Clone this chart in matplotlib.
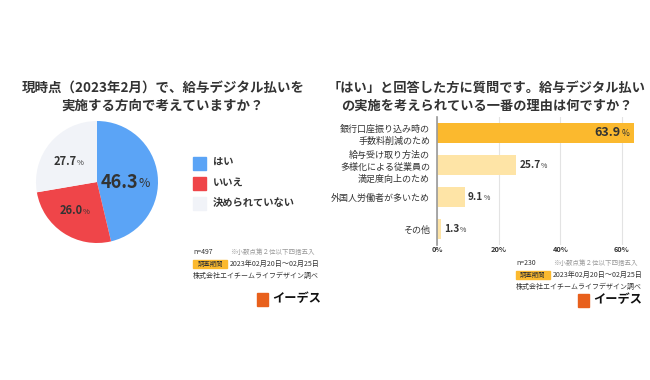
import matplotlib.pyplot as plt
from matplotlib.patches import Rectangle
from matplotlib.transforms import offset_copy

plt.rcParams['font.family'] = ['Noto Sans CJK JP', 'DejaVu Sans']

# left: pie data
pie_labels = ['はい', 'いいえ', '決められていない']
pie_values = [46.3, 26.0, 27.7]
pie_colors = ['#5ba4f6', '#ef4549', '#f1f3f8']

# right: bar data
bar_labels = ['銀行口座振り込み時の\n手数料削減のため',
              '給与受け取り方法の\n多様化による従業員の\n満足度向上のため',
              '外国人労働者が多いため',
              'その他']
bar_values = [63.9, 25.7, 9.1, 1.3]
bar_colors = ['#fbb92e', '#fee4a6', '#fee4a6', '#fee4a6']
x_ticks = [0, 20, 40, 60]

W, H = 650, 380
fig = plt.figure(figsize=(W / 100, H / 100), dpi=100)
renderer = fig.canvas.get_renderer()
DARK = '#333333'


def px(x, y):
    return x / W, 1 - y / H


def box(x0, y0, x1, y1):
    return [x0 / W, 1 - y1 / H, (x1 - x0) / W, (y1 - y0) / H]


def ftext(x, y, s, **kw):
    fx, fy = px(x, y)
    return fig.text(fx, fy, s, **kw)


def pct(ax, x, y, num, size, ha='right', dx=0):
    # number followed by a smaller percent sign
    tr = offset_copy(ax.transData, fig=fig, x=dx, y=0, units='dots')
    t = ax.text(x, y, num, fontsize=size, fontweight='bold', color=DARK,
                ha=ha, va='center', transform=tr)
    bb = t.get_window_extent(renderer)
    fig.text(bb.x1 + 0.5, (bb.y0 + bb.y1) / 2 - size * 0.1, '%', fontsize=size * 0.68,
             color=DARK, ha='left', va='center', transform=None)


# ---------- left panel ----------
ftext(163, 88, '現時点（2023年2月）で、給与デジタル払いを', fontsize=9.7, fontweight='bold',
      color=DARK, ha='center', va='center')
ftext(163, 106, '実施する方向で考えていますか？', fontsize=9.7, fontweight='bold',
      color=DARK, ha='center', va='center')

ax1 = fig.add_axes(box(36, 121, 158, 243))
ax1.pie(pie_values, colors=pie_colors, startangle=90, counterclock=False,
        wedgeprops=dict(linewidth=0))
ax1.set_xlim(-1, 1)
ax1.set_ylim(-1, 1)
ax1.set_aspect('equal')
ax1.axis('off')
pct(ax1, 0.68, 0.0, '46.3', 13)
pct(ax1, -0.34, 0.33, '27.7', 8)
pct(ax1, -0.24, -0.475, '26.0', 8)

for i, (lab, col) in enumerate(zip(pie_labels, pie_colors)):
    y = 163 + i * 20
    fig.patches.append(Rectangle(px(193, y + 6.5), 13 / W, 13 / H, color=col,
                                 transform=fig.transFigure))
    ftext(213, y, lab, fontsize=7.4, fontweight='bold', color=DARK, va='center')


def notes(x, y, n):
    ftext(x, y, n, fontsize=5.0, color=DARK, va='center')
    ftext(x + 37, y, '※小数点第２位以下四捨五入', fontsize=4.7, color='#999999', va='center')
    fig.patches.append(Rectangle(px(x, y + 16), 34 / W, 8 / H, color='#fbb92e',
                                 transform=fig.transFigure))
    ftext(x + 17, y + 12, '調査期間', fontsize=4.6, color=DARK, ha='center', va='center')
    ftext(x + 37, y + 12, '2023年02月20日～02月25日', fontsize=5.1, color=DARK, va='center')
    ftext(x, y + 24, '株式会社エイチームライフデザイン調べ', fontsize=5.0, color=DARK, va='center')


def logo(x, y):
    fig.patches.append(Rectangle(px(x, y + 6.5), 11 / W, 13 / H, color='#e8601c',
                                 transform=fig.transFigure))
    ftext(x + 15, y, 'イーデス', fontsize=8.8, fontweight='bold', color='#111111', va='center')


notes(193, 252, 'n=497')
logo(257, 299)

# ---------- right panel ----------
ftext(487, 88, '「はい」と回答した方に質問です。給与デジタル払い', fontsize=9.5,
      fontweight='bold', color=DARK, ha='center', va='center')
ftext(487, 106, 'の実施を考えられている一番の理由は何ですか？', fontsize=9.5,
      fontweight='bold', color=DARK, ha='center', va='center')

ax2 = fig.add_axes(box(437, 117, 634, 245))
ypos = list(range(len(bar_values)))
ax2.barh(ypos, bar_values, color=bar_colors, height=0.6)
ax2.set_xlim(0, 63.9)
ax2.set_ylim(3.5, -0.5)
ax2.set_xticks(x_ticks)
ax2.set_xticklabels([f'{t}%' for t in x_ticks], fontsize=5.3, fontweight='bold', color=DARK)
ax2.set_yticks(ypos)
ax2.set_yticklabels(bar_labels, fontsize=6.5, color=DARK, linespacing=1.35)
ax2.tick_params(axis='x', length=0, pad=1)
ax2.tick_params(axis='y', length=0, pad=5)
ax2.grid(axis='x', color='#e3e3e3', linewidth=0.8)
ax2.set_axisbelow(True)
for s in ['top', 'right', 'bottom']:
    ax2.spines[s].set_visible(False)
ax2.spines['left'].set_color('#999999')
ax2.spines['left'].set_linewidth(1.2)

pct(ax2, bar_values[0], 0, f'{bar_values[0]}', 9, ha='right', dx=-13)
for i in range(1, 4):
    pct(ax2, bar_values[i], i, f'{bar_values[i]}', 7.3, ha='left', dx=3)

notes(516, 263, 'n=230')
logo(578, 300)

fig.savefig('out.png', dpi=100)
